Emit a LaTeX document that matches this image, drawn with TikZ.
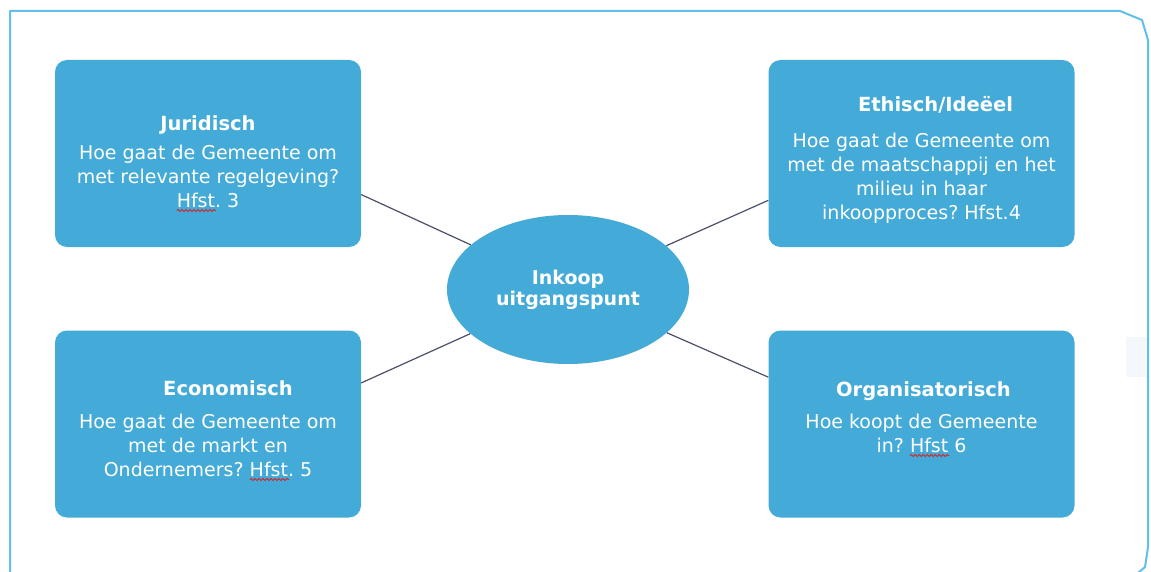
\documentclass[tikz,border=0pt]{standalone}
\usepackage{fontspec}
\setmainfont{DejaVu Sans}
\usetikzlibrary{shapes.geometric,decorations.pathmorphing}
\frenchspacing
\definecolor{boxblue}{RGB}{68,170,215}
\definecolor{framecol}{RGB}{100,190,236}
\definecolor{linecol}{RGB}{75,80,104}
\definecolor{faint}{RGB}{244,248,252}
\definecolor{spellred}{RGB}{215,35,35}
\newcommand\spl[1]{\tikz[baseline=(w.base),x=1pt,y=1pt]{\node[inner sep=0pt,outer sep=0pt,text=white,anchor=base] (w) {#1};\draw[overlay,spellred,line width=0.8pt,decorate,decoration={snake,amplitude=1.1pt,segment length=4pt}] ([yshift=-3.5pt]w.base west) -- ([yshift=-3.5pt,xshift=1pt]w.base east);}}
\tikzset{
  box/.style={fill=boxblue, draw=none, rounded corners=12pt, minimum width=306pt, minimum height=187pt, inner sep=0pt},
  boxtext/.style={text=white, align=center, inner sep=0pt, anchor=north, font=\fontsize{19}{24}\selectfont\frenchspacing},
  hub/.style={ellipse, fill=boxblue, draw=none, minimum width=242pt, minimum height=149pt, inner sep=0pt, text=white, align=center, font=\fontsize{19}{21}\selectfont\bfseries},
  conn/.style={draw=linecol, line width=1.2pt},
  frame/.style={draw=framecol, line width=2pt, line join=round}
}
\newcommand\ttlfont{\fontsize{19.5}{24}\selectfont\bfseries}
\begin{document}
\begin{tikzpicture}[x=1pt,y=-1pt]
\useasboundingbox (0,0) rectangle (1151,572);
\fill[white] (0,0) rectangle (1151,572);
\fill[faint] (1126,337) rectangle (1147,377);
\draw[frame] (10,573) -- (10,11) -- (1120,11) -- (1142,20) -- (1148,40) -- (1148,547) -- (1145,567) -- (1138,573);

\node[box] (jur) at (208,153.5) {};
\node[box] (eth) at (921.5,153.5) {};
\node[box] (eco) at (208,424) {};
\node[box] (org) at (921.5,424) {};
\node[hub] (el) at (568,289.5) {Inkoop\\uitgangspunt};

\draw[conn] (el) -- (jur.-15.9);
\draw[conn] (el) -- (eth.-163);
\draw[conn] (el) -- (eco.15.7);
\draw[conn] (el) -- (org.163);

\node[boxtext] (jurT) at (208,115) {{\ttlfont Juridisch}\\[5pt]Hoe gaat de Gemeente om\\met relevante regelgeving?\\\spl{Hfst}. 3};
\node[boxtext] (ethT) at (921.5,96) {\hspace*{28pt}{\ttlfont Ethisch/Ideëel}\\[12pt]Hoe gaat de Gemeente om\\met de maatschappij en het\\milieu in haar\\inkoopproces? Hfst.4};
\node[boxtext] (ecoT) at (208,380) {\hspace*{40pt}{\ttlfont Economisch}\\[9pt]Hoe gaat de Gemeente om\\met de markt en\\Ondernemers? \spl{Hfst}. 5};
\node[boxtext] (orgT) at (921.5,381) {\hspace*{4pt}{\ttlfont Organisatorisch}\\[8pt]Hoe koopt de Gemeente\\in? \spl{Hfst} 6};
\end{tikzpicture}
\end{document}
